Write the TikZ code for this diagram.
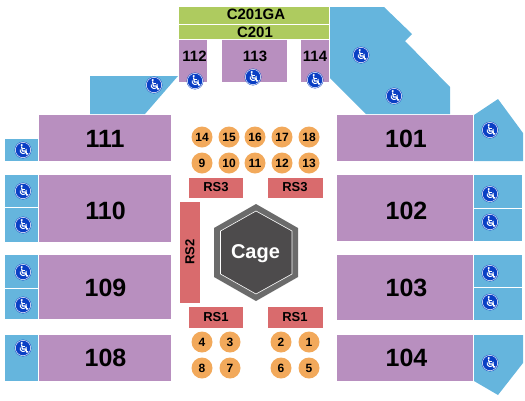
\documentclass[tikz,border=0pt]{standalone}
\usepackage{fontspec}
\setmainfont{Liberation Sans}
\definecolor{secpurple}{HTML}{B88FBF}
\definecolor{secblue}{HTML}{65B5DD}
\definecolor{secgreen}{HTML}{AECB5F}
\definecolor{secred}{HTML}{D96B6D}
\definecolor{secorange}{HTML}{F2A95B}
\definecolor{iconblue}{HTML}{0A3FC4}
\definecolor{cagedark}{HTML}{4D4B4C}
\definecolor{cagerim}{HTML}{6B6B6B}
\newcommand{\fsz}[1]{\fontsize{#1}{#1}\selectfont\bfseries}
\tikzset{
  x=1pt,y=-1pt,
  txt/.style={inner sep=0pt,text=black},
  big/.style={txt,font=\fsz{25}},
  mid/.style={txt,font=\fsz{15}},
  rs/.style={txt,font=\fsz{13}},
  seatlab/.style={txt,font=\fsz{12}},
  purple/.style={fill=secpurple},
  blue/.style={fill=secblue},
  green/.style={fill=secgreen},
  red/.style={fill=secred},
  seat/.style={circle,fill=secorange,minimum size=21pt,inner sep=0pt,seatlab},
  wc/.pic={
    \fill[iconblue] (0,0) circle[radius=8.4];
    \draw[white,line width=.5pt] (0,0) circle[radius=7.7];
    \fill[white] (-1.3,-5) circle[radius=1.2];
    \draw[white,line width=1.2pt,line cap=round,line join=round]
      (-1.3,-3.2) -- (-.7,1) -- (2.6,1) -- (3.9,4.2) -- (4.9,3.7);
    \draw[white,line width=.9pt] (-1,-1.2) -- (2,-1.2);
    \draw[white,line width=.9pt] (-2.8,-.6) arc[start angle=198,end angle=-30,radius=3.2];
  }
}
\begin{document}
\begin{tikzpicture}
\useasboundingbox (0,0) rectangle (525,400);
% top tier
\fill[green] (179,7) rectangle (329,24);
\node[mid] (c201ga) at (256,14.5) {C201GA};
\fill[green] (179,25) rectangle (329,39);
\node[mid] (c201) at (255,32.5) {C201};
\fill[purple] (179,40) rectangle (207,82);
\node[mid] (s112) at (194.5,56) {112};
\fill[purple] (222,40) rectangle (287,82);
\node[mid] (s113) at (255,56) {113};
\fill[purple] (301,40) rectangle (329,82);
\node[mid] (s114) at (315,56) {114};
% blue wheelchair areas
\fill[blue] (90,76) -- (178,76) -- (145,114) -- (90,114) -- cycle;
\fill[blue] (330,7) -- (384,7) -- (412,34) -- (405,41) -- (450,87) -- (450,114) -- (366,114) -- (330,78) -- cycle;
\fill[blue] (474,115) -- (498,99) -- (523,133) -- (523,161) -- (474,161) -- cycle;
\fill[blue] (474,335) -- (523,335) -- (523,363) -- (498,395) -- (474,381) -- cycle;
\fill[blue] (5,139) rectangle (38,161);
\fill[blue] (5,175) rectangle (38,207);
\fill[blue] (5,208) rectangle (38,242);
\fill[blue] (5,255) rectangle (38,288);
\fill[blue] (5,289) rectangle (38,319);
\fill[blue] (5,335) rectangle (38,381);
\fill[blue] (474,175) rectangle (522,208);
\fill[blue] (474,209) rectangle (522,241);
\fill[blue] (474,255) rectangle (522,287);
\fill[blue] (474,288) rectangle (522,320);
% main sections
\foreach \xa/\xb/\ya/\yb/\lab/\nm/\tx/\ty in {39/171/115/161/111/s111/105/139,39/171/175/242/110/s110/105.5/210.5,39/171/255/319/109/s109/105.5/287.5,39/171/335/381/108/s108/105.5/358,337/473/115/161/101/s101/406/139,337/473/175/241/102/s102/406.5/210.5,337/473/255/320/103/s103/406.5/287.5,337/473/335/381/104/s104/406.5/358}{
  \fill[purple] (\xa,\ya) rectangle (\xb,\yb);
  \node[big] (\nm) at (\tx,\ty) {\lab};
}
% floor rows
\fill[red] (189,178) rectangle (243,198);
\node[rs] (rs3a) at (216,187.5) {RS3};
\fill[red] (268,178) rectangle (323,198);
\node[rs] (rs3b) at (295,187.5) {RS3};
\fill[red] (180,202) rectangle (200,303);
\node[rs,rotate=90] (rs2) at (190,252) {RS2};
\fill[red] (189,307) rectangle (243,328);
\node[rs] (rs1a) at (216,317) {RS1};
\fill[red] (268,307) rectangle (323,328);
\node[rs] (rs1b) at (295,317) {RS1};
% seats
\foreach \px/\py/\lab in {202/137/14,229/137/15,255/137/16,282/137/17,309/137/18,202/163/9,229/163/10,255/163/11,282/163/12,309/163/13,202/342/4,230/342/3,202/368/8,230/368/7,281/342/2,309/342/1,281/368/6,309/368/5}{
  \node[seat] (seat\lab) at (\px,\py) {\lab};
}
% cage
\fill[cagerim] (256,204) -- (298,228) -- (298,277) -- (256,301) -- (214,277) -- (214,228) -- cycle;
\fill[cagedark] (256,211) -- (292,231) -- (292,274) -- (256,294) -- (220.5,274) -- (220.5,231) -- cycle;
\draw[white,line width=.6pt,line join=miter] (256,211) -- (292,231) -- (292,274) -- (256,294) -- (220.5,274) -- (220.5,231) -- cycle;
\node[txt,text=white,font=\fsz{20}] (cage) at (255.5,253.5) {Cage};
% icons
\foreach \px/\py in {195/81,253/77,315/80,154/85,361/55,394/96,23/150,23/191,23/225,23/272,23/305,23/348,490/130,490/194,490/222,490/273,490/302,490/363}{
  \pic at (\px,\py) {wc};
}
\end{tikzpicture}
\end{document}
